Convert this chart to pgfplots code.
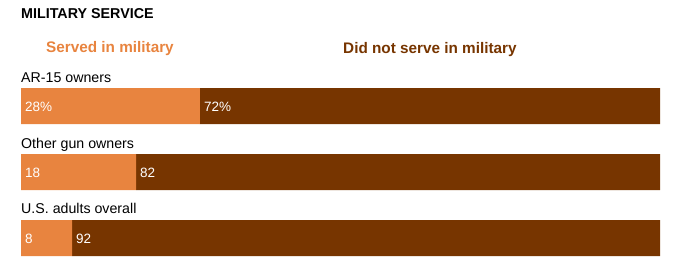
\documentclass[border=0pt]{standalone}
\usepackage{pgfplots}
\pgfplotsset{compat=1.18}
\usepackage{fontspec}
\setmainfont{Liberation Sans}
\definecolor{served}{HTML}{E8843F}
\definecolor{notserved}{HTML}{773500}
\begin{document}
\begin{tikzpicture}[x=1pt,y=1pt]
\path (0,0) rectangle (677,-276);
\node[anchor=base west, inner sep=0, font=\bfseries\fontsize{14.3}{16}\selectfont] at (21,-18) {MILITARY SERVICE};
\node[anchor=base west, inner sep=0, text=served, font=\bfseries\fontsize{15.3}{17}\selectfont] at (46,-52) {Served in military};
\node[anchor=base west, inner sep=0, text=notserved, font=\bfseries\fontsize{15.3}{17}\selectfont] at (343,-53) {Did not serve in military};
\node[anchor=base west, inner sep=0, font=\fontsize{14.2}{16}\selectfont] at (21,-82) {AR-15 owners};
\node[anchor=base west, inner sep=0, font=\fontsize{14.2}{16}\selectfont] at (21,-148) {Other gun owners};
\node[anchor=base west, inner sep=0, font=\fontsize{14.2}{16}\selectfont] at (21,-213) {U.S. adults overall};
\begin{axis}[at={(21pt,-88pt)}, anchor=north west, scale only axis,
  width=639pt, height=168pt, xmin=0, xmax=100, ymin=-256, ymax=-88,
  axis lines=none, ticks=none, xbar stacked, bar width=36]
\addplot[fill=served, draw=none] coordinates {(28,-106) (18,-172) (8,-238)};
\addplot[fill=notserved, draw=none] coordinates {(72,-106) (82,-172) (92,-238)};
\end{axis}
\tikzset{pct/.style={anchor=base west, inner sep=0, text=white, font=\fontsize{13.5}{15}\selectfont}}
\node[pct] at (25,-111) {28\%};
\node[pct] at (204,-111) {72\%};
\node[pct] at (25,-177) {18};
\node[pct] at (140,-177) {82};
\node[pct] at (25,-243) {8};
\node[pct] at (76,-243) {92};
\end{tikzpicture}
\end{document}
